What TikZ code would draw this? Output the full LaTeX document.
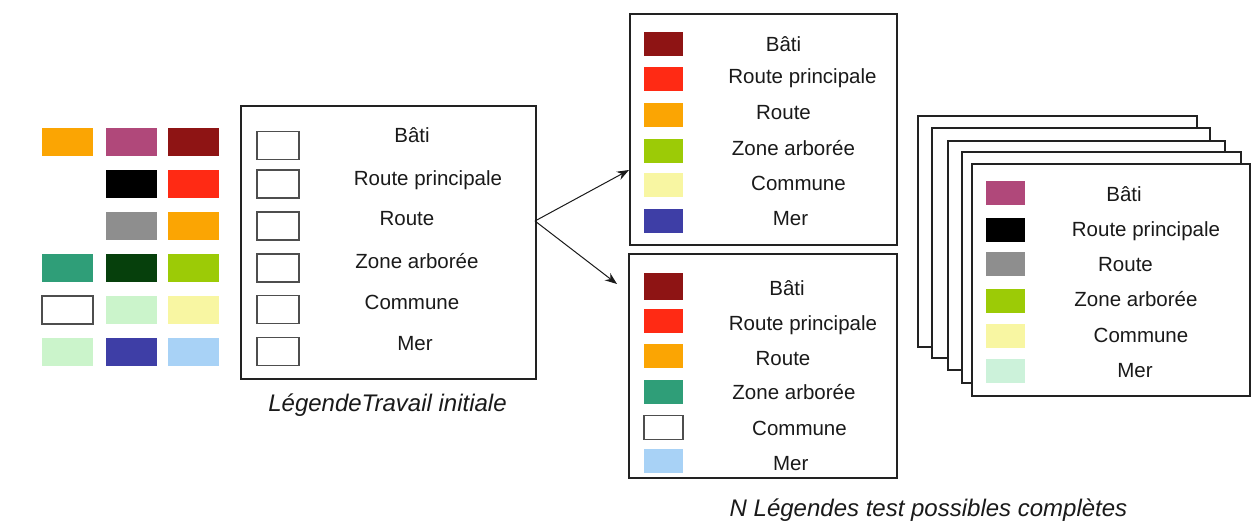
\documentclass[tikz,border=0pt]{standalone}
\usepackage{fontspec}
\setmainfont{Liberation Sans}
\usetikzlibrary{arrows.meta}

% palette colours
\definecolor{ink}{HTML}{1A1A1A}
\definecolor{frame}{HTML}{222222}
\definecolor{cOrange}{HTML}{FBA503}
\definecolor{cMauve}{HTML}{B0487A}
\definecolor{cDarkRed}{HTML}{8E1414}
\definecolor{cRed}{HTML}{FF2A14}
\definecolor{cGray}{HTML}{8E8E8E}
\definecolor{cTeal}{HTML}{2F9E78}
\definecolor{cDarkGreen}{HTML}{06400C}
\definecolor{cYellowGreen}{HTML}{9CCB06}
\definecolor{cLightGreen}{HTML}{CBF4CB}
\definecolor{cLightYellow}{HTML}{F8F6A2}
\definecolor{cBlue}{HTML}{3E3EA6}
\definecolor{cLightBlue}{HTML}{A8D2F6}
\definecolor{cMint}{HTML}{CCF2DA}

\begin{document}
\begin{tikzpicture}[x=1pt,y=-1pt,
  panel/.style={draw=frame, line width=1.5pt, fill=white, inner sep=0pt, outer sep=0pt},
  chip/.style={inner sep=0pt, outer sep=0pt, minimum width=51pt, minimum height=28pt, fill=#1},
  key/.style={inner sep=0pt, outer sep=0pt, minimum width=39pt, minimum height=24pt, fill=#1},
  blank/.style={draw=frame!80, line width=1.1pt, fill=white},
  lbl/.style={anchor=base, inner sep=0pt, text=ink, font=\fontsize{20.5}{24}\selectfont},
  caption/.style={anchor=base, inner sep=0pt, text=ink, font=\fontsize{24}{28}\selectfont\itshape},
  link/.style={draw=ink, line width=1pt, -{Stealth[length=12pt,width=9pt]}}
]
\useasboundingbox (0,0) rectangle (1256,527);
\fill[white] (0,0) rectangle (1256,527);

% colour palette
\node[chip=cOrange]      (p11) at (67.5,142.3) {};
\node[chip=cMauve]       (p12) at (131.5,142.3) {};
\node[chip=cDarkRed]     (p13) at (193.5,142.3) {};
\node[chip=black]        (p22) at (131.5,184) {};
\node[chip=cRed]         (p23) at (193.5,184) {};
\node[chip=cGray]        (p32) at (131.5,226) {};
\node[chip=cOrange]      (p33) at (193.5,226) {};
\node[chip=cTeal]        (p41) at (67.5,268) {};
\node[chip=cDarkGreen]   (p42) at (131.5,268) {};
\node[chip=cYellowGreen] (p43) at (193.5,268) {};
\node[chip=white, blank] (p51) at (67.5,310) {};
\node[chip=cLightGreen]  (p52) at (131.5,310) {};
\node[chip=cLightYellow] (p53) at (193.5,310) {};
\node[chip=cLightGreen]  (p61) at (67.5,351.5) {};
\node[chip=cBlue]        (p62) at (131.5,351.5) {};
\node[chip=cLightBlue]   (p63) at (193.5,351.5) {};

% initial working legend
\node[panel, minimum width=295pt, minimum height=273pt] (init) at (388.5,242.5) {};
\foreach \i/\y in {1/145.5, 2/184, 3/226, 4/268, 5/309.5, 6/351.5}
  \node[key=white, blank, minimum width=42pt, minimum height=28pt] (ik\i) at (278,\y) {};
\node[lbl] (il1) at (412,142.7) {Bâti};
\node[lbl] (il2) at (428,185) {Route principale};
\node[lbl] (il3) at (407,225) {Route};
\node[lbl] (il4) at (417,268) {Zone arborée};
\node[lbl] (il5) at (412,309) {Commune};
\node[lbl] (il6) at (415,350.7) {Mer};
\node[caption] (initcap) at (387.5,411.7) {LégendeTravail initiale};

% first complete test legend
\node[panel, minimum width=267pt, minimum height=231pt] (ta) at (763.5,129.5) {};
\node[key=cDarkRed]     (ak1) at (663.5,44) {};
\node[key=cRed]         (ak2) at (663.5,79.5) {};
\node[key=cOrange]      (ak3) at (663.5,115) {};
\node[key=cYellowGreen] (ak4) at (663.5,150.5) {};
\node[key=cLightYellow] (ak5) at (663.5,185) {};
\node[key=cBlue]        (ak6) at (663.5,221) {};
\node[lbl] (al1) at (783.5,52) {Bâti};
\node[lbl] (al2) at (802.5,84) {Route principale};
\node[lbl] (al3) at (783.5,119) {Route};
\node[lbl] (al4) at (793.5,155) {Zone arborée};
\node[lbl] (al5) at (798.5,190) {Commune};
\node[lbl] (al6) at (790.5,225) {Mer};

% second complete test legend
\node[panel, minimum width=268pt, minimum height=224pt] (tb) at (763,366) {};
\node[key=cDarkRed, minimum height=27pt] (bk1) at (663.5,286.7) {};
\node[key=cRed]         (bk2) at (663.5,320.5) {};
\node[key=cOrange]      (bk3) at (663.5,355.8) {};
\node[key=cTeal]        (bk4) at (663.5,391.7) {};
\node[key=white, blank] (bk5) at (663.5,427.2) {};
\node[key=cLightBlue]   (bk6) at (663.5,461.3) {};
\node[lbl] (bl1) at (787,295) {Bâti};
\node[lbl] (bl2) at (803,330) {Route principale};
\node[lbl] (bl3) at (783,365) {Route};
\node[lbl] (bl4) at (794,399) {Zone arborée};
\node[lbl] (bl5) at (799.5,435.7) {Commune};
\node[lbl] (bl6) at (790.7,470) {Mer};
\node[caption] (testcap) at (928.5,516) {N Légendes test possibles complètes};

% arrows from the working legend to the test legends
\coordinate (split) at (535,221);
\coordinate (hitA) at (629,170);
\coordinate (hitB) at (617,284);
\draw[link] (split) -- (hitA);
\draw[link] (split) -- (hitB);

% stack of further test legends
\node[panel, minimum width=279pt, minimum height=231pt] (s1) at (1057.5,231.5) {};
\node[panel, minimum width=278pt, minimum height=230pt] (s2) at (1071,243) {};
\node[panel, minimum width=277pt, minimum height=229pt] (s3) at (1086.5,255.5) {};
\node[panel, minimum width=279pt, minimum height=231pt] (s4) at (1101.5,267.5) {};
\node[panel, minimum width=278pt, minimum height=232pt] (s5) at (1111,280) {};
\node[key=cMauve]       (ck1) at (1005.5,193.3) {};
\node[key=black]        (ck2) at (1005.5,229.5) {};
\node[key=cGray]        (ck3) at (1005.5,264) {};
\node[key=cYellowGreen] (ck4) at (1005.5,300.5) {};
\node[key=cLightYellow] (ck5) at (1005.5,335.5) {};
\node[key=cMint]        (ck6) at (1005.5,371) {};
\node[lbl] (cl1) at (1124,201.7) {Bâti};
\node[lbl] (cl2) at (1146,236.7) {Route principale};
\node[lbl] (cl3) at (1125.5,271.7) {Route};
\node[lbl] (cl4) at (1136,306.7) {Zone arborée};
\node[lbl] (cl5) at (1141,342) {Commune};
\node[lbl] (cl6) at (1135,377) {Mer};
\end{tikzpicture}
\end{document}
